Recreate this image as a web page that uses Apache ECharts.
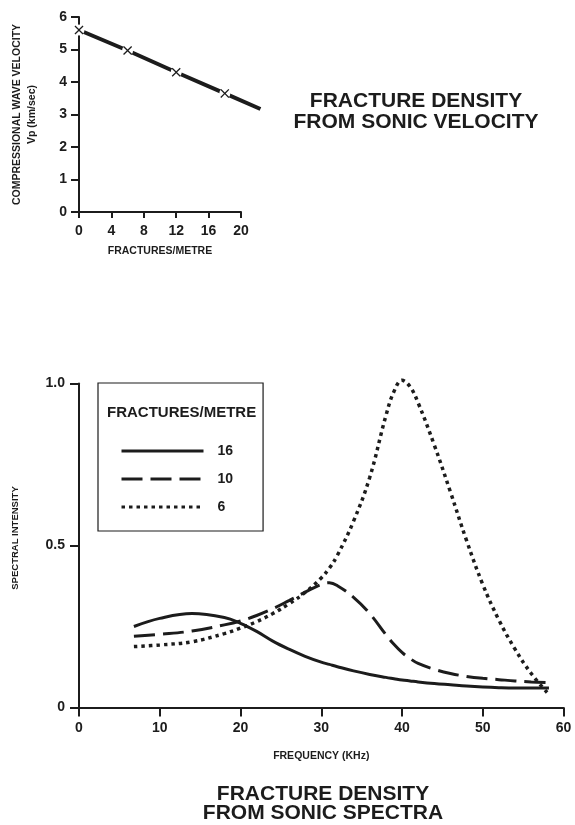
<!DOCTYPE html>
<html>
<head>
<meta charset="utf-8">
<script src="https://cdn.jsdelivr.net/npm/echarts@6/dist/echarts.min.js"></script>
<style>
  html, body { margin: 0; padding: 0; background: #fff; }
  #main { width: 575px; height: 825px; }
</style>
</head>
<body>
<div id="main"></div>
<script>
  // sonic velocity vs fracture density
  var velFractures = [0, 6, 12, 18, 22.4];
  var velValues = [5.6, 4.97, 4.3, 3.65, 3.17];
  var markFractures = [0, 6, 12, 18];
  var markValues = [5.6, 4.97, 4.3, 3.65];
  var velXTicks = [0, 4, 8, 12, 16, 20];

  // sonic spectra
  var freq = [6.8, 10, 14, 18, 20, 22, 24, 26, 28, 30, 31, 32, 34, 36, 38, 39, 40, 41, 42, 44, 46, 48, 50, 52, 54, 56, 58.2];
  var spec16 = [0.25, 0.275, 0.29, 0.278, 0.26, 0.235, 0.205, 0.18, 0.158, 0.14, 0.133, 0.126, 0.113, 0.102, 0.093, 0.089, 0.085, 0.082, 0.079, 0.074, 0.07, 0.066, 0.063, 0.061, 0.06, 0.06, 0.06];
  var spec10 = [0.22, 0.226, 0.236, 0.255, 0.267, 0.284, 0.305, 0.33, 0.356, 0.38, 0.385, 0.376, 0.34, 0.29, 0.225, 0.195, 0.17, 0.151, 0.136, 0.118, 0.105, 0.096, 0.09, 0.086, 0.082, 0.079, 0.077];
  var spec6 = [0.188, 0.193, 0.203, 0.228, 0.245, 0.265, 0.29, 0.32, 0.355, 0.40, 0.43, 0.47, 0.575, 0.71, 0.9, 0.975, 1.01, 0.99, 0.94, 0.81, 0.665, 0.515, 0.38, 0.27, 0.18, 0.105, 0.04];
  var specNames = ['16', '10', '6'];

  var FONT = '"Liberation Sans", Arial, Helvetica, sans-serif';
  var INK = '#1c1c1c';

  function pairs(xs, ys) {
    return xs.map(function (x, i) { return [x, ys[i]]; });
  }

  var xMark = 'path://M0,1L1,0L5,4L9,0L10,1L6,5L10,9L9,10L5,6L1,10L0,9L4,5Z';

  var axisLine = { lineStyle: { color: INK, width: 2 } };

  // top plot: axis drawn to 20, line runs on past it (second hidden grid, same scale)
  var topW = 162;
  var topMax = 20, lineMax = 22.4;

  var chart = echarts.init(document.getElementById('main'), null, { renderer: 'canvas' });

  chart.setOption({
    backgroundColor: '#fff',
    animation: false,
    textStyle: { fontFamily: FONT, color: INK },
    title: [
      {
        text: 'FRACTURE DENSITY\nFROM SONIC VELOCITY',
        left: 416, top: 91, padding: 0, textAlign: 'center',
        textStyle: { fontFamily: FONT, fontSize: 21, fontWeight: 'bold', lineHeight: 21, color: INK }
      },
      {
        text: 'FRACTURE DENSITY\nFROM SONIC SPECTRA',
        left: 323, top: 785, padding: 0, textAlign: 'center',
        textStyle: { fontFamily: FONT, fontSize: 21, fontWeight: 'bold', lineHeight: 19, color: INK }
      },
      {
        text: 'FRACTURES/METRE',
        left: 107, top: 405, padding: 0,
        textStyle: { fontFamily: FONT, fontSize: 15, fontWeight: 'bold', lineHeight: 16, color: INK }
      }
    ],
    legend: {
      data: specNames,
      orient: 'vertical',
      left: 98, top: 383,
      padding: [61, 30, 17, 22],
      borderColor: INK, borderWidth: 1.2,
      itemWidth: 82, itemHeight: 14, itemGap: 14,
      lineStyle: { width: 3 },
      itemStyle: { color: 'transparent', borderColor: 'transparent', borderWidth: 0, opacity: 0 },
      textStyle: { fontFamily: FONT, fontSize: 14, fontWeight: 'bold', color: INK, padding: [0, 0, 0, 9] }
    },
    grid: [
      { left: 79, top: 17, width: topW, height: 195 },
      { left: 79, top: 383.5, width: 484.5, height: 324 },
      { left: 79, top: 17, width: topW * lineMax / topMax, height: 195 }
    ],
    xAxis: [
      {
        gridIndex: 0, type: 'value', min: 0, max: topMax, interval: 4,
        axisLine: axisLine,
        axisTick: { length: 6, lineStyle: { color: INK, width: 2 } },
        splitLine: { show: false },
        axisLabel: { margin: 12, fontSize: 14, fontWeight: 'bold', color: INK, fontFamily: FONT,
          customValues: velXTicks },
        name: 'FRACTURES/METRE', nameLocation: 'middle', nameGap: 34,
        nameTextStyle: { fontSize: 10.5, fontWeight: 'bold', color: INK, fontFamily: FONT }
      },
      {
        gridIndex: 1, type: 'value', min: 0, max: 60, interval: 10,
        axisLine: axisLine,
        axisTick: { length: 9, lineStyle: { color: INK, width: 2 } },
        splitLine: { show: false },
        axisLabel: { margin: 14, fontSize: 14, fontWeight: 'bold', color: INK, fontFamily: FONT },
        name: 'FREQUENCY (KHz)', nameLocation: 'middle', nameGap: 43,
        nameTextStyle: { fontSize: 10.5, fontWeight: 'bold', color: INK, fontFamily: FONT }
      },
      {
        gridIndex: 2, type: 'value', min: 0, max: lineMax, show: false
      }
    ],
    yAxis: [
      {
        gridIndex: 0, type: 'value', min: 0, max: 6, interval: 1,
        axisLine: axisLine,
        axisTick: { length: 8, lineStyle: { color: INK, width: 2 } },
        splitLine: { show: false },
        axisLabel: { margin: 12, fontSize: 14, fontWeight: 'bold', color: INK, fontFamily: FONT },
        name: 'COMPRESSIONAL WAVE VELOCITY\nVp (km/sec)', nameLocation: 'middle', nameGap: 40,
        nameTextStyle: { fontSize: 10.5, fontWeight: 'bold', lineHeight: 14.4, color: INK, fontFamily: FONT }
      },
      {
        gridIndex: 1, type: 'value', min: 0, max: 1, interval: 0.5,
        axisLine: axisLine,
        axisTick: { length: 9, lineStyle: { color: INK, width: 2 } },
        splitLine: { show: false },
        axisLabel: { margin: 14, fontSize: 14, fontWeight: 'bold', color: INK, fontFamily: FONT,
          formatter: function (v) { return v === 0 ? '0' : v.toFixed(1); } },
        name: 'SPECTRAL INTENSITY', nameLocation: 'middle', nameGap: 59,
        nameTextStyle: { fontSize: 9.5, fontWeight: 'bold', color: INK, fontFamily: FONT, padding: [0, 0, 0, 15] }
      },
      {
        gridIndex: 2, type: 'value', min: 0, max: 6, show: false
      }
    ],
    series: [
      {
        type: 'line', xAxisIndex: 2, yAxisIndex: 2, clip: false,
        data: pairs(velFractures, velValues),
        symbol: 'none',
        lineStyle: { color: INK, width: 4 },
        z: 2
      },
      {
        type: 'scatter', xAxisIndex: 0, yAxisIndex: 0, clip: false,
        data: pairs(markFractures, markValues),
        symbol: 'circle', symbolSize: 11,
        itemStyle: { color: '#fff', opacity: 1 },
        z: 3, silent: true
      },
      {
        type: 'scatter', xAxisIndex: 0, yAxisIndex: 0, clip: false,
        data: pairs(markFractures, markValues),
        symbol: xMark, symbolSize: 9,
        itemStyle: { color: INK, opacity: 1 },
        z: 4
      },
      {
        name: specNames[0], type: 'line', xAxisIndex: 1, yAxisIndex: 1, clip: false,
        data: pairs(freq, spec16), smooth: 0.4, symbol: 'none',
        itemStyle: { color: INK },
        lineStyle: { color: INK, width: 3 }
      },
      {
        name: specNames[1], type: 'line', xAxisIndex: 1, yAxisIndex: 1, clip: false,
        data: pairs(freq, spec10), smooth: 0.4, symbol: 'none',
        itemStyle: { color: INK },
        lineStyle: { color: INK, width: 3, type: [21, 8], cap: 'butt' }
      },
      {
        name: specNames[2], type: 'line', xAxisIndex: 1, yAxisIndex: 1, clip: false,
        data: pairs(freq, spec6), smooth: 0.4, symbol: 'none',
        itemStyle: { color: INK },
        lineStyle: { color: INK, width: 3.5, type: [3.5, 4], cap: 'butt' }
      }
    ]
  });
</script>
</body>
</html>
